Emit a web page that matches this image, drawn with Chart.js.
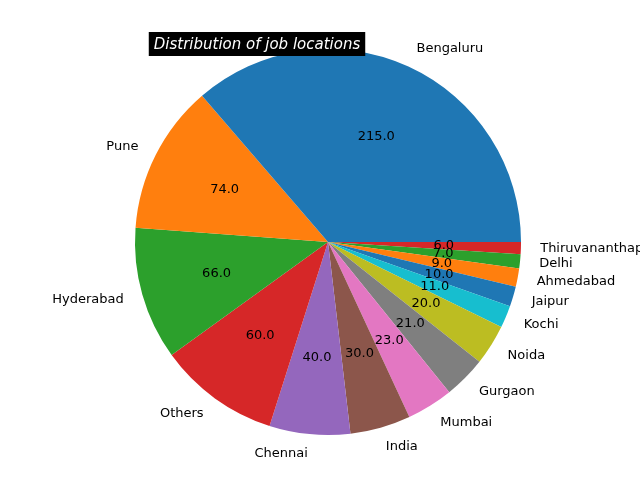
<!DOCTYPE html>
<html><head><meta charset="utf-8">
<script src="https://cdn.jsdelivr.net/npm/chart.js@4"></script>
<style>html,body{margin:0;padding:0;background:#fff}#c{display:block}</style>
</head><body>
<div style="width:640px;height:480px"><canvas id="c" width="640" height="480"></canvas></div>
<script>
const categories = ["Bengaluru","Pune","Hyderabad","Others","Chennai","India","Mumbai","Gurgaon","Noida","Kochi","Jaipur","Ahmedabad","Delhi","Thiruvananthapuram"];
const values = [215,74,66,60,40,30,23,21,20,11,10,9,7,6];
const palette = ["#1f77b4","#ff7f0e","#2ca02c","#d62728","#9467bd","#8c564b","#e377c2","#7f7f7f","#bcbd22","#17becf"];
const colors = categories.map((_, i) => palette[i % 10]);
// matplotlib draws counter-clockwise; Chart.js clockwise -> reverse order
const rl = categories.slice().reverse(), rv = values.slice().reverse(), rc = colors.slice().reverse();
const labelPlugin = {
  id: 'lbl',
  afterDraw(chart) {
    const ctx = chart.ctx, meta = chart.getDatasetMeta(0);
    ctx.save();
    ctx.font = '13px "DejaVu Sans"';
    ctx.fillStyle = '#000';
    meta.data.forEach((arc, i) => {
      const a = (arc.startAngle + arc.endAngle) / 2, r = arc.outerRadius;
      const cx = arc.x, cy = arc.y;
      const lx = cx + Math.cos(a) * r * 1.1, ly = cy + Math.sin(a) * r * 1.1;
      ctx.textBaseline = 'middle';
      ctx.textAlign = Math.cos(a) >= 0 ? 'left' : 'right';
      ctx.fillText(rl[i], lx, ly);
      ctx.textAlign = 'center';
      ctx.fillText(rv[i].toFixed(1), cx + Math.cos(a) * r * 0.6, cy + Math.sin(a) * r * 0.6);
    });
    // title
    ctx.font = 'italic 15px "DejaVu Sans"';
    const t = 'Distribution of job locations';
    const w = ctx.measureText(t).width;
    const tx = 257, ty = 44;
    ctx.fillStyle = '#000';
    ctx.fillRect(tx - w / 2 - 5, ty - 12, w + 10, 24);
    ctx.fillStyle = '#fff';
    ctx.textAlign = 'center';
    ctx.fillText(t, tx, ty + 1);
    ctx.restore();
  }
};
new Chart(document.getElementById('c'), {
  type: 'pie',
  data: { labels: rl, datasets: [{ data: rv, backgroundColor: rc, borderWidth: 0 }] },
  options: {
    responsive: false, animation: false, rotation: 90,
    layout: { padding: { top: 49, bottom: 45, left: 135, right: 119 } },
    plugins: { legend: { display: false }, tooltip: { enabled: false } }
  },
  plugins: [labelPlugin]
});
</script>
</body></html>
